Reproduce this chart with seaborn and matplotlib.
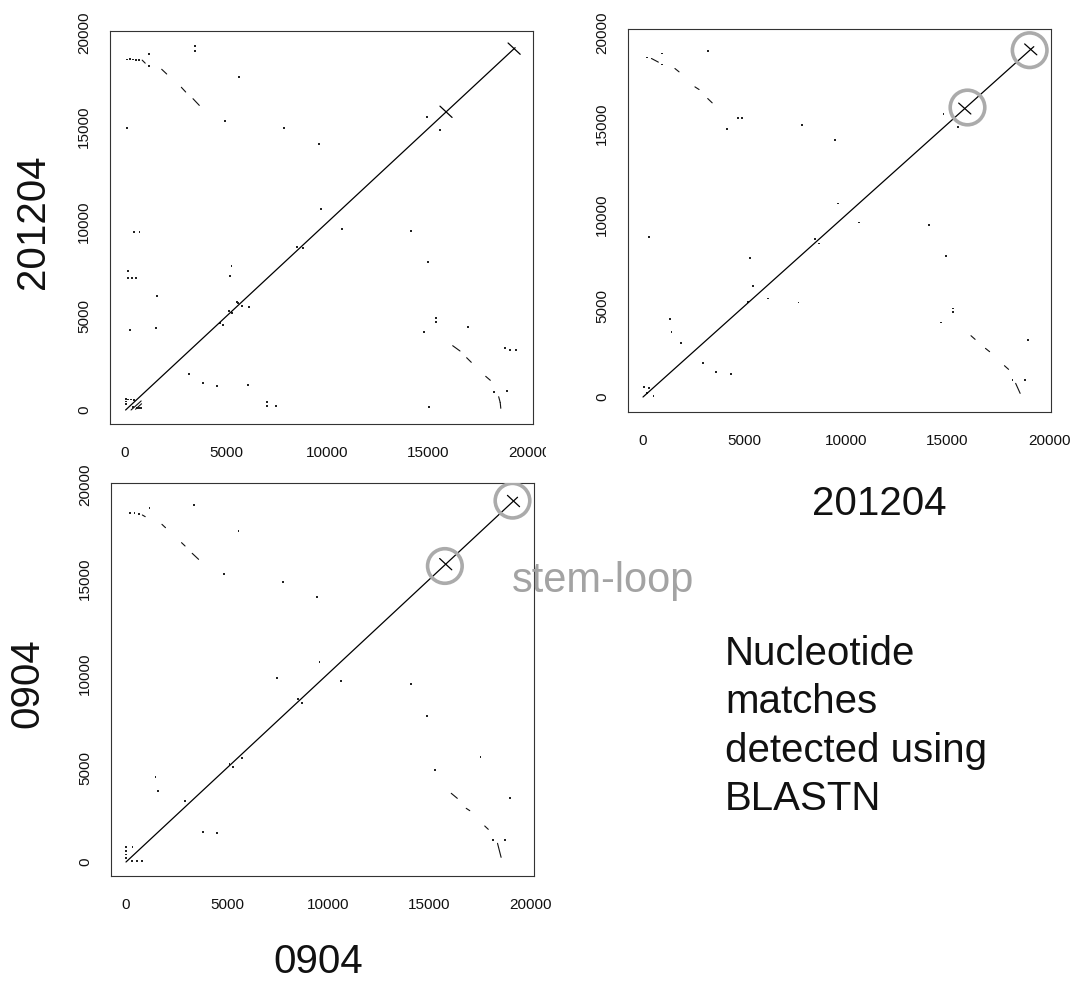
import matplotlib
matplotlib.use("Agg")
import matplotlib.pyplot as plt
from matplotlib.transforms import Bbox, TransformedBbox, IdentityTransform
import seaborn as sns
import pandas as pd

sns.set_theme(style="white")
plt.rcParams['font.family'] = ['Liberation Sans', 'DejaVu Sans']

# ---------------- data ----------------
tick_values = [0, 5000, 10000, 15000, 20000]
tick_labels = ["0", "5000", "10000", "15000", "20000"]

row_labels = ["201204", "0904"]
col_labels = ["201204", "0904"]
annotation_gray = "stem-loop"
note_lines = ["Nucleotide", "matches", "detected using", "BLASTN"]

# panel 1 : x = 0904, y = 201204
p1_diagonal = [(30, 0, 19300, 19220)]
p1_cross_centers = [(15880, 15820), (19250, 19170)]
p1_segments = [
    (300, 0, 800, 480), (520, 40, 820, 330),
    (850, 18560, 1000, 18400),
    (1815, 18075, 2063, 17825), (2787, 17120, 3002, 16870), (3364, 16514, 3676, 16160),
    (16210, 3411, 16572, 3130), (16900, 2774, 17130, 2530), (17843, 1785, 18072, 1575),
    (18485, 705, 18560, 400), (18560, 400, 18590, 90),
]
p1_dots_x = [60, 60, 60, 150, 300, 450, 600, 700, 800, 400,
             100, 250, 400, 550, 700, 1200, 1170, 3447, 3447, 4947, 5623, 84, 7866, 9600,
             15385, 15385, 14775, 16985, 18255, 18900, 18780, 19045, 19340, 15040,
             247, 1534, 3182, 3876, 4567, 6100, 7040, 7040, 7455,
             4700, 4863, 5145, 5278, 5770, 6150, 5525, 5606,
             150, 150, 350, 545, 460, 717, 1569, 9700, 10730, 14140, 14940, 15590, 15000,
             5265, 5195, 8510, 8810]
p1_dots_y = [600, 450, 300, 560, 560, 520, 100, 100, 120, 150,
             18600, 18620, 18600, 18580, 18560, 18870, 18250, 19310, 19060, 15350, 17665, 14975, 14940, 14120,
             4897, 4685, 4154, 4387, 955, 990, 3305, 3200, 3200, 143,
             4244, 4332, 1893, 1414, 1290, 1326, 443, 212, 212,
             4600, 4509, 5268, 5130, 5517, 5448, 5745, 5692,
             7390, 7000, 7000, 7000, 9460, 9460, 6065, 10660, 9620, 9500, 15530, 14850, 7850,
             7640, 7125, 8665, 8578]

# panel 2 : x = 201204, y = 201204
p2_diagonal = [(0, 0, 19250, 19250)]
p2_cross_centers = [(15850, 15850), (19100, 19100)]
p2_circles_x = [15985, 19047]
p2_circles_y = [15907, 19055]
p2_segments = [
    (416, 18600, 756, 18400),
    (1572, 18050, 1776, 17866), (2558, 17040, 2762, 16895), (3187, 16400, 3408, 16163),
    (16156, 3368, 16360, 3167), (16870, 2672, 17074, 2490), (17805, 1720, 18009, 1519),
    (18357, 750, 18578, 201),
]
p2_dots_x = [212, 943, 943, 3187, 4122, 4689, 4893, 7816, 9448, 9618, 10638, 14070, 14920,
             14800, 15510, 8456, 8677, 5262, 5400, 6163, 7659, 5177, 297,
             1317, 1402, 1878, 2966, 3612, 4343, 42, 297, 212, 518,
             15256, 15256, 14661, 18200, 18830, 18958]
p2_dots_y = [18650, 18870, 18270, 19020, 14717, 15340, 15340, 14936, 14113, 10635, 9592, 9445, 7761,
             15540, 14845, 8677, 8438, 7651, 6095, 5418, 5198, 5235, 8805,
             4283, 3588, 2947, 1849, 1355, 1263, 567, 476, 201, 55,
             4869, 4686, 4100, 934, 934, 3130]

# panel 3 : x = 0904, y = 0904
p3_diagonal = [(0, 0, 19350, 19350)]
p3_cross_centers = [(15800, 15800), (19150, 19150)]
p3_circles_x = [15758, 19100]
p3_circles_y = [15703, 19169]
p3_segments = [
    (809, 18408, 950, 18320),
    (1776, 17913, 1952, 17736), (2744, 16941, 2919, 16764), (3271, 16375, 3588, 16056),
    (16074, 3643, 16373, 3377), (16813, 2847, 16989, 2723), (17728, 1910, 17904, 1733),
    (18360, 990, 18537, 248),
]
p3_dots_x = [193, 422, 633, 1161, 3359, 4854, 5557, 7756, 9427, 9567, 10622, 7457, 14087, 14879,
             8512, 8688, 1460, 1565, 2919, 3799, 4502, 5118, 5294, 5733,
             15265, 17517, 18132, 18748, 18959,
             0, 0, 0, 0, 316, 281, 550, 809]
p3_dots_y = [18532, 18497, 18461, 18762, 18939, 15260, 17559, 14872, 14076, 10628, 9602, 9744, 9443, 7745,
             8630, 8417, 4527, 3784, 3236, 1609, 1521, 5199, 5057, 5500,
             4880, 5588, 1167, 1167, 3377,
             800, 600, 400, 200, 813, 70, 70, 70]

CROSS_ARM = 300

# ---------------- figure ----------------
W, H = 1071, 982
fig = plt.figure(figsize=(W / 100, H / 100), dpi=100)


def frac_box(l, t, r, b):
    return [l / W, 1 - b / H, (r - l) / W, (b - t) / H]


def style_axes(ax, xlim, ylim):
    ax.set_xlim(*xlim)
    ax.set_ylim(*ylim)
    ax.set_xticks(tick_values)
    ax.set_xticklabels(tick_labels)
    ax.set_yticks(tick_values)
    ax.set_yticklabels(tick_labels, rotation=90, va="center")
    ax.tick_params(axis="both", direction="out", length=5.5, width=0.8,
                   color="#222222", labelsize=11, labelcolor="#111111")
    ax.tick_params(axis="x", pad=10.5)
    ax.tick_params(axis="y", pad=8)
    for s in ax.spines.values():
        s.set_visible(True)
        s.set_color("#333333")
        s.set_linewidth(0.8)
    ax.set_facecolor("white")
    ax.grid(False)


def draw_panel(ax, diagonal, crosses, segments, dots_x, dots_y, circles=None):
    for (x0, y0, x1, y1) in diagonal:
        ax.plot([x0, x1], [y0, y1], color="black", lw=0.9)
    for (cx, cy) in crosses:
        ax.plot([cx - CROSS_ARM, cx + CROSS_ARM], [cy + CROSS_ARM, cy - CROSS_ARM],
                color="black", lw=0.9)
    for (x0, y0, x1, y1) in segments:
        ax.plot([x0, x1], [y0, y1], color="#111111", lw=0.8)
    df = pd.DataFrame({"x": dots_x, "y": dots_y})
    sns.scatterplot(data=df, x="x", y="y", ax=ax, marker="s", s=1.6,
                    color="#222222", edgecolor="none", legend=False)
    if circles is not None:
        cdf = pd.DataFrame({"x": circles[0], "y": circles[1]})
        sns.scatterplot(data=cdf, x="x", y="y", ax=ax, marker="o", s=620,
                        facecolor="none", edgecolor="#ababab", linewidth=2.6,
                        legend=False, zorder=5)
    ax.set_xlabel("")
    ax.set_ylabel("")


ax1 = fig.add_axes(frac_box(110, 31, 533, 424))
draw_panel(ax1, p1_diagonal, p1_cross_centers, p1_segments, p1_dots_x, p1_dots_y)
style_axes(ax1, (-742, 20183), (-743, 20106))

ax2 = fig.add_axes(frac_box(628, 29, 1051, 412))
draw_panel(ax2, p2_diagonal, p2_cross_centers, p2_segments, p2_dots_x, p2_dots_y,
           circles=(p2_circles_x, p2_circles_y))
style_axes(ax2, (-739, 20098), (-824, 20220))

ax3 = fig.add_axes(frac_box(111, 483, 534, 876))
draw_panel(ax3, p3_diagonal, p3_cross_centers, p3_segments, p3_dots_x, p3_dots_y,
           circles=(p3_circles_x, p3_circles_y))
style_axes(ax3, (-741, 20163), (-743, 20106))

# the last x tick label of the first panel is cut off at the figure-region edge
clip_bbox = TransformedBbox(Bbox([[0, 0], [546, H]]), IdentityTransform())
for lab in ax1.get_xticklabels():
    lab.set_clip_on(True)
    lab.set_clip_box(clip_bbox)

# ---------------- labels ----------------
big = 29
fig.text(33 / W, 1 - 222 / H, row_labels[0], rotation=90, ha="center", va="center",
         fontsize=big, color="#111111")
fig.text(27 / W, 1 - 683 / H, row_labels[1], rotation=90, ha="center", va="center",
         fontsize=big, color="#111111")
fig.text(879 / W, 1 - 504 / H, col_labels[0], ha="center", va="center",
         fontsize=big, color="#111111")
fig.text(318 / W, 1 - 962 / H, col_labels[1], ha="center", va="center",
         fontsize=big, color="#111111")

fig.text(512 / W, 1 - 592 / H, annotation_gray, ha="left", va="baseline",
         fontsize=30, color="#a3a3a3")

note_baselines = [665, 713, 762, 810]
for line, yb in zip(note_lines, note_baselines):
    fig.text(725 / W, 1 - yb / H, line, ha="left", va="baseline",
             fontsize=29, color="#111111")

fig.savefig("out.png", dpi=100, facecolor="white")
